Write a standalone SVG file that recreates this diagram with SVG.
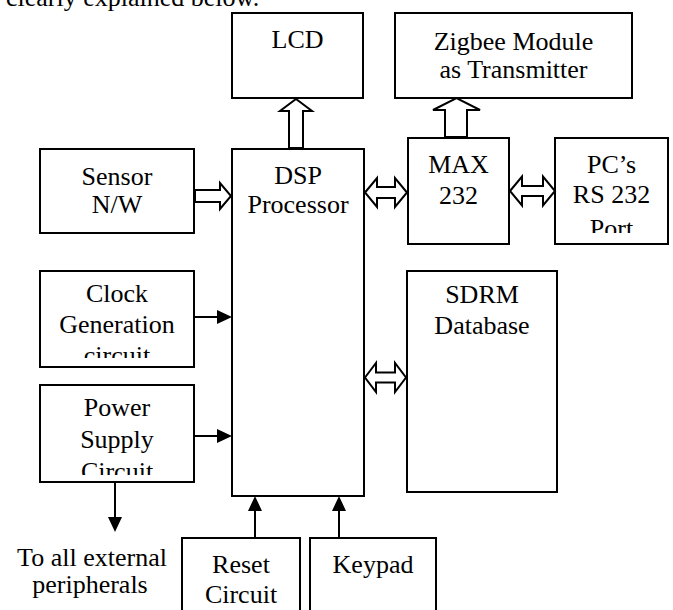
<svg xmlns="http://www.w3.org/2000/svg" width="673" height="610" viewBox="0 0 673 610">
<style>
.box{fill:#fff;stroke:#000;stroke-width:2}
.t{font-family:"Liberation Serif","Times New Roman",serif;font-size:26px;fill:#000;text-anchor:middle}
.hollow{fill:#fff;stroke:#000;stroke-width:2;stroke-linejoin:miter}
.line{stroke:#000;stroke-width:2;fill:none}
</style>
<defs>
<marker id="ah" markerUnits="userSpaceOnUse" markerWidth="15" markerHeight="14" refX="7" refY="7" orient="auto">
<path d="M0,0 L15,7 L0,14 z" fill="#000"/>
</marker>
<clipPath id="clipPC"><rect x="556" y="139" width="111" height="94"/></clipPath>
<clipPath id="clipClock"><rect x="41" y="272" width="152" height="86"/></clipPath>
<clipPath id="clipPower"><rect x="41" y="386" width="152" height="89"/></clipPath>
</defs>
<rect width="673" height="610" fill="#fff"/>
<text class="t" x="6" y="5.5" style="text-anchor:start">clearly explained below.</text>

<g id="lcd">
<rect class="box" x="232" y="13" width="131" height="85"/>
<text class="t" x="297.5" y="48">LCD</text>
</g>
<g id="zigbee">
<rect class="box" x="395" y="13" width="237" height="85"/>
<text class="t" x="513.5" y="50">Zigbee Module</text>
<text class="t" x="513.5" y="78">as Transmitter</text>
</g>
<g id="sensor">
<rect class="box" x="40" y="149" width="154" height="84"/>
<text class="t" x="117" y="185">Sensor</text>
<text class="t" x="117" y="213">N/W</text>
</g>
<g id="dsp">
<rect class="box" x="232" y="149" width="132" height="347"/>
<text class="t" x="298" y="184">DSP</text>
<text class="t" x="298" y="213">Processor</text>
</g>
<g id="max232">
<rect class="box" x="408" y="138" width="101" height="106"/>
<text class="t" x="458.5" y="173">MAX</text>
<text class="t" x="458.5" y="204">232</text>
</g>
<g id="pc">
<rect class="box" x="555" y="138" width="113" height="106"/>
<g clip-path="url(#clipPC)">
<text class="t" x="611.5" y="173">PC’s</text>
<text class="t" x="611.5" y="203">RS 232</text>
<text class="t" x="611.5" y="237">Port</text>
</g>
</g>
<g id="clock">
<rect class="box" x="40" y="271" width="154" height="96"/>
<g clip-path="url(#clipClock)">
<text class="t" x="117" y="302">Clock</text>
<text class="t" x="117" y="333">Generation</text>
<text class="t" x="117" y="364">circuit</text>
</g>
</g>
<g id="power">
<rect class="box" x="40" y="385" width="154" height="97"/>
<g clip-path="url(#clipPower)">
<text class="t" x="117" y="416">Power</text>
<text class="t" x="117" y="448">Supply</text>
<text class="t" x="117" y="480">Circuit</text>
</g>
</g>
<g id="sdrm">
<rect class="box" x="407" y="271" width="150" height="221"/>
<text class="t" x="482" y="303">SDRM</text>
<text class="t" x="482" y="334">Database</text>
</g>
<g id="reset">
<rect class="box" x="182" y="538" width="118" height="80"/>
<text class="t" x="241" y="573">Reset</text>
<text class="t" x="241" y="603">Circuit</text>
</g>
<g id="keypad">
<rect class="box" x="310" y="538" width="126" height="80"/>
<text class="t" x="373" y="573">Keypad</text>
</g>
<g id="peripherals-label">
<text class="t" x="92" y="566">To all external</text>
<text class="t" x="90" y="593">peripherals</text>
</g>

<g id="connectors">
<polygon class="hollow" points="289,148 289,111 280,111 296,99 312,111 303,111 303,148"/>
<polygon class="hollow" points="445,137 445,110 433,110 456.5,98 480,110 467,110 467,137"/>
<polygon class="hollow" points="195,190 220,190 220,183 231,196 220,209 220,202 195,202"/>
<polygon class="hollow" points="365,192.5 377,178 377,187 395,187 395,178 407,192.5 395,207 395,198 377,198 377,207"/>
<polygon class="hollow" points="510,191 522,176.5 522,186 543,186 543,176.5 555,191 543,205.5 543,196 522,196 522,205.5"/>
<polygon class="hollow" points="365,377.5 376,363 376,372.5 395,372.5 395,363 406,377.5 395,392 395,382.5 376,382.5 376,392"/>
<line class="line" x1="194" y1="317" x2="224" y2="317" marker-end="url(#ah)"/>
<line class="line" x1="194" y1="436" x2="224" y2="436" marker-end="url(#ah)"/>
<line class="line" x1="115" y1="482" x2="115" y2="524" marker-end="url(#ah)"/>
<line class="line" x1="255" y1="538" x2="255" y2="504" marker-end="url(#ah)"/>
<line class="line" x1="339" y1="538" x2="339" y2="504" marker-end="url(#ah)"/>
</g>
</svg>
